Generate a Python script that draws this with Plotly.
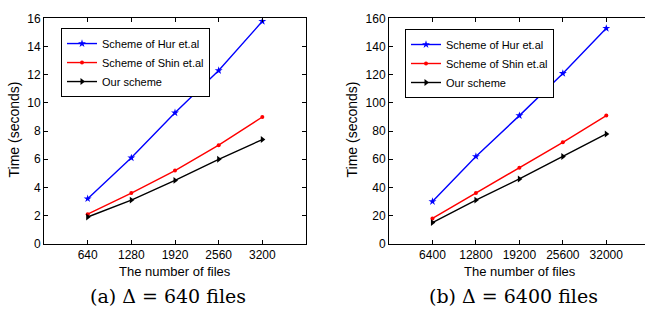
import plotly.graph_objects as go

# Data
files_a = [640, 1280, 1920, 2560, 3200]
hur_a = [3.2, 6.1, 9.3, 12.3, 15.8]
shin_a = [2.1, 3.6, 5.2, 7.0, 9.0]
ours_a = [1.9, 3.1, 4.5, 6.0, 7.4]

files_b = [6400, 12800, 19200, 25600, 32000]
hur_b = [30, 62, 91, 121, 153]
shin_b = [18, 36, 54, 72, 91]
ours_b = [15, 31, 46, 62, 78]

names = ["Scheme of Hur et.al", "Scheme of Shin et.al", "Our scheme"]
colors = ["#0000ff", "#ff0000", "#000000"]
symbols = ["star", "circle", "triangle-right"]
msizes = [6, 4, 6]

W, H = 645, 322
def px(x):
    return x / W
def py(y):
    return 1 - y / H

fig = go.Figure()

for series, xs, xa, ya, leg in [
    ([hur_a, shin_a, ours_a], files_a, "x", "y", "legend"),
    ([hur_b, shin_b, ours_b], files_b, "x2", "y2", "legend2"),
]:
    for name, vals, c, s, ms in zip(names, series, colors, symbols, msizes):
        fig.add_trace(go.Scatter(
            x=xs, y=vals, name=name, mode="lines+markers",
            line=dict(color=c, width=1.4),
            marker=dict(symbol=s, size=ms, color=c),
            xaxis=xa, yaxis=ya, legend=leg,
        ))

sans = "Liberation Sans, Arial, sans-serif"
tickfont = dict(family=sans, size=12, color="#000")
axcommon = dict(showgrid=False, zeroline=False, showline=True, linecolor="#000",
                linewidth=1, ticks="inside", ticklen=4, tickcolor="#000",
                tickfont=tickfont)

ytop, ybot = 12, 247.5
legfont = dict(family=sans, size=11, color="#000")
fig.update_layout(
    width=W, height=H, margin=dict(l=0, r=0, t=0, b=0),
    paper_bgcolor="white", plot_bgcolor="white",
    xaxis=dict(domain=[px(44), px(306)], range=[0, 3840], tickvals=files_a,
               ticktext=[str(v) for v in files_a], mirror="ticks", anchor="y", **axcommon),
    yaxis=dict(domain=[py(ybot), py(ytop)], range=[0, 16], dtick=2, mirror="ticks",
               anchor="x", **axcommon),
    xaxis2=dict(domain=[px(389), 1.0], range=[0, 37700], tickvals=files_b,
                ticktext=[str(v) for v in files_b], mirror="ticks", anchor="y2", **axcommon),
    yaxis2=dict(domain=[py(ybot), py(ytop)], range=[0, 160], dtick=20, mirror=False,
                anchor="x2", **axcommon),
    legend=dict(x=px(61), y=py(22), xanchor="left", yanchor="top",
                bordercolor="#000", borderwidth=1, bgcolor="white",
                font=legfont, itemwidth=30, tracegroupgap=0),
    legend2=dict(x=px(405), y=py(23), xanchor="left", yanchor="top",
                 bordercolor="#000", borderwidth=1, bgcolor="white",
                 font=legfont, itemwidth=30, tracegroupgap=0),
    showlegend=True,
)

xtitlefont = dict(family=sans, size=13, color="#000")
ytitlefont = dict(family=sans, size=14, color="#000")
capfont = dict(family="DejaVu Serif, Liberation Serif, serif", size=19, color="#000")
ann = [
    dict(text="The number of files", x=px(175), y=py(277), font=xtitlefont),
    dict(text="The number of files", x=px(520), y=py(277), font=xtitlefont),
    dict(text="Time (seconds)", x=px(14), y=py(128), font=ytitlefont, textangle=-90),
    dict(text="Time (seconds)", x=px(352), y=py(128), font=ytitlefont, textangle=-90),
    dict(text="(a) \u0394 = 640 files", x=px(168), y=py(302), font=capfont),
    dict(text="(b) \u0394 = 6400 files", x=px(513), y=py(302), font=capfont),
]
for a in ann:
    a.update(xref="paper", yref="paper", showarrow=False, xanchor="center", yanchor="middle")
fig.update_layout(annotations=ann)

fig.write_html("out.html")
